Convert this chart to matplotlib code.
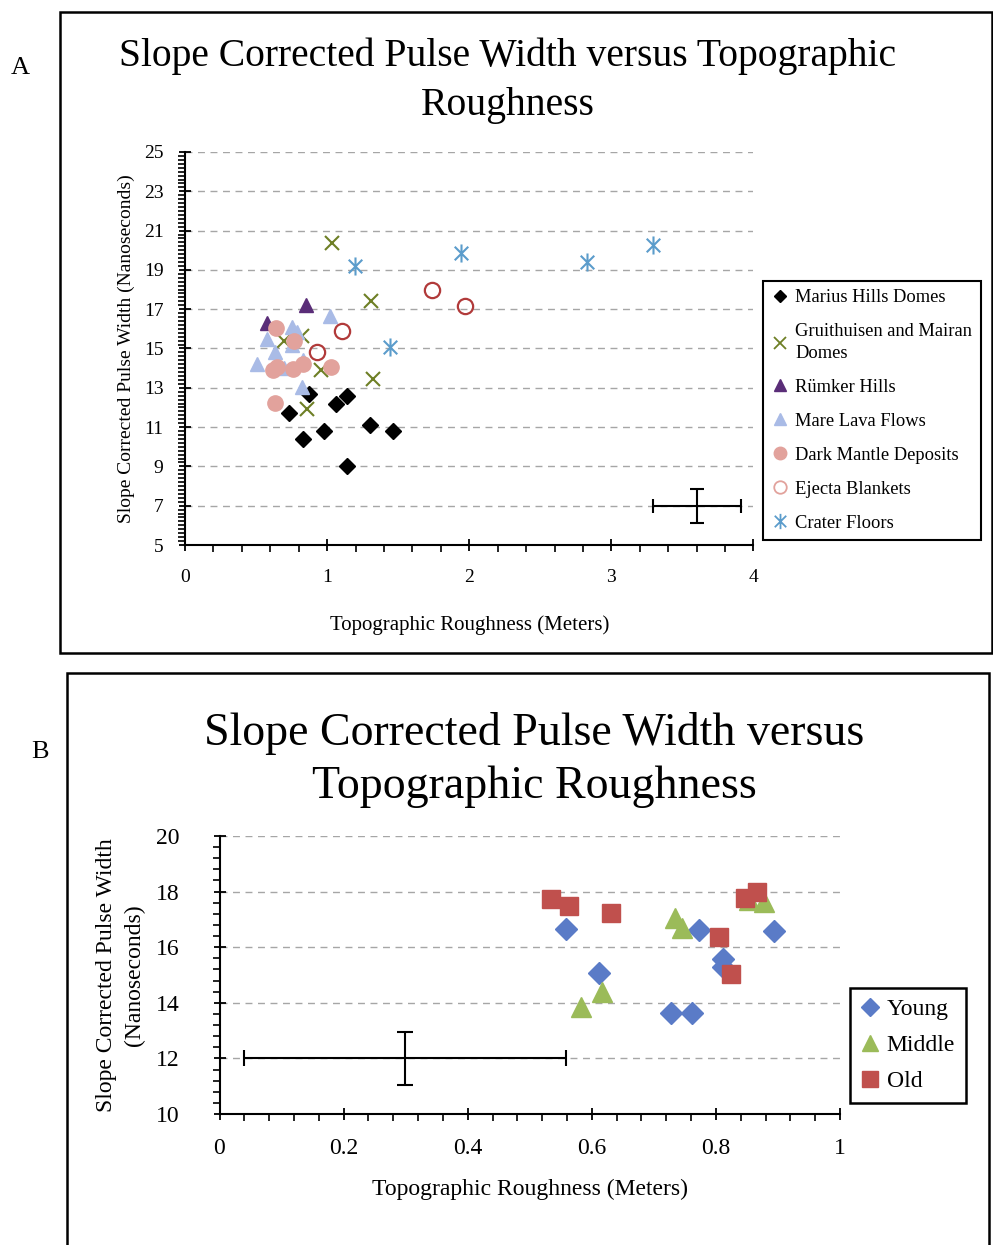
import numpy as np
import matplotlib
matplotlib.use("Agg")
from matplotlib import pyplot as plt
from matplotlib.path import Path
from matplotlib.patches import Rectangle
from matplotlib.lines import Line2D
from matplotlib.ticker import MultipleLocator

plt.rcParams['font.family'] = ['Liberation Serif', 'DejaVu Serif']

# ---- panel A data ----
marius_x = [0.87, 0.733, 1.06, 1.14, 0.832, 0.975, 1.30, 1.465, 1.14]
marius_y = [12.67, 11.70, 12.19, 12.58, 10.39, 10.80, 11.12, 10.79, 9.04]
gruit_x = [1.033, 1.312, 0.82, 0.70, 0.956, 1.326, 0.858]
gruit_y = [20.39, 17.43, 15.65, 15.40, 13.91, 13.43, 11.94]
rumker_x = [0.574, 0.85]
rumker_y = [16.31, 17.21]
mare_x = [1.02, 0.752, 0.79, 0.58, 0.635, 0.51, 0.752, 0.827, 0.82, 0.70]
mare_y = [16.67, 16.08, 15.85, 15.48, 14.84, 14.21, 15.20, 14.40, 13.03, 14.00]
dark_x = [0.638, 0.764, 0.616, 0.647, 0.757, 0.827, 1.026, 0.635]
dark_y = [16.03, 15.40, 13.91, 14.07, 13.96, 14.20, 14.07, 12.21]
ejecta_x = [1.108, 0.928, 1.741, 1.968]
ejecta_y = [15.89, 14.81, 17.98, 17.16]
crater_x = [1.197, 1.94, 1.443, 2.826, 3.292]
crater_y = [19.20, 19.84, 15.06, 19.39, 20.27]
err_a = (3.6, 7.0, 0.31, 0.87)   # x, y, xerr, yerr
yticks_a = [5, 7, 9, 11, 13, 15, 17, 19, 21, 23, 25]

# ---- panel B data ----
young_x = [0.558, 0.612, 0.772, 0.894, 0.812, 0.811, 0.727, 0.762]
young_y = [16.65, 15.06, 16.62, 16.60, 15.58, 15.28, 13.64, 13.64]
middle_x = [0.582, 0.616, 0.734, 0.745, 0.853, 0.878]
middle_y = [13.86, 14.38, 17.04, 16.68, 17.70, 17.64]
old_x = [0.534, 0.564, 0.631, 0.805, 0.825, 0.847, 0.867]
old_y = [17.72, 17.49, 17.24, 16.38, 15.02, 17.76, 18.00]
err_b = (0.299, 12.0, 0.26, 0.96)
xticklabels_b = ['0', '0.2', '0.4', '0.6', '0.8', '1']

W, H = 993, 1245
fig = plt.figure(figsize=(W / 100, H / 100), dpi=100)

def fx(px):
    return px / W

def fy(py):
    return 1 - py / H

# panel frames
fig.patches.append(Rectangle((fx(60), fy(653)), fx(932), 641 / H, transform=fig.transFigure,
                             fill=False, lw=1.8, ec='black'))
fig.patches.append(Rectangle((fx(67), fy(1260)), fx(922), 587 / H, transform=fig.transFigure,
                             fill=False, lw=1.8, ec='black'))
fig.text(fx(20), fy(68), 'A', fontsize=19, ha='center', va='center')
fig.text(fx(40), fy(752), 'B', fontsize=19, ha='center', va='center')

asterisk = Path([(0, -1), (0, 1), (-0.75, -0.75), (0.75, 0.75), (-0.75, 0.75), (0.75, -0.75)],
                [Path.MOVETO, Path.LINETO] * 3)

def style_axes(ax):
    for s in ['top', 'right']:
        ax.spines[s].set_visible(False)
    for s in ['left', 'bottom']:
        ax.spines[s].set_linewidth(1.5)
    ax.tick_params(which='major', direction='inout', length=9, width=1.3)
    ax.tick_params(which='minor', direction='out', length=5, width=1.2)
    ax.yaxis.grid(True, which='major', color='#a6a6a6', ls=(0, (5, 4)), lw=1)
    ax.set_axisbelow(True)

# ---------------- panel A ----------------
axA = fig.add_axes([fx(185), fy(545), 568.5 / W, 393 / H])
style_axes(axA)
axA.set_xlim(0, 4)
axA.set_ylim(5, 25)
axA.xaxis.set_major_locator(MultipleLocator(1))
axA.xaxis.set_minor_locator(MultipleLocator(0.2))
axA.set_yticks(yticks_a)
axA.yaxis.set_minor_locator(MultipleLocator(0.2))
axA.tick_params(axis='x', labelsize=14, pad=13)
axA.tick_params(axis='y', labelsize=14, pad=11)

c_gr = '#6e7f25'
c_ru = '#5a2d78'
c_ma = '#a9bbe6'
c_dk = '#e2a29c'
c_ej = '#b13a3a'
c_cr = '#5b9ccb'

axA.plot(marius_x, marius_y, 'D', color='black', ms=8, ls='none')
axA.plot(gruit_x, gruit_y, 'x', color=c_gr, ms=10, mew=1.5, ls='none')
axA.plot(rumker_x, rumker_y, '^', color=c_ru, ms=10, ls='none')
axA.plot(mare_x, mare_y, '^', color=c_ma, ms=10, ls='none')
axA.plot(dark_x, dark_y, 'o', color=c_dk, ms=11, ls='none')
axA.plot(ejecta_x, ejecta_y, 'o', mfc='none', mec=c_ej, ms=11, mew=1.6, ls='none')
axA.plot(crater_x, crater_y, marker=asterisk, mfc='none', mec=c_cr, ms=13, mew=1.5, ls='none')
axA.errorbar([err_a[0]], [err_a[1]], xerr=[err_a[2]], yerr=[err_a[3]], fmt='none',
             ecolor='black', elinewidth=1.5, capsize=5, capthick=1.5)

axA.set_xlabel('Topographic Roughness (Meters)', fontsize=15, labelpad=21)
axA.set_ylabel('Slope Corrected Pulse Width (Nanoseconds)', fontsize=14, labelpad=6)
fig.text(fx(508), fy(81), 'Slope Corrected Pulse Width versus Topographic\nRoughness',
         fontsize=28.5, ha='center', va='center', linespacing=1.42)

hA = [
    Line2D([], [], marker='D', color='black', ms=6, ls='none'),
    Line2D([], [], marker='x', color=c_gr, ms=9, mew=1.3, ls='none'),
    Line2D([], [], marker='^', color=c_ru, ms=8, ls='none'),
    Line2D([], [], marker='^', color=c_ma, ms=8, ls='none'),
    Line2D([], [], marker='o', color=c_dk, ms=9, ls='none'),
    Line2D([], [], marker='o', mfc='none', mec=c_dk, ms=9, mew=1.3, ls='none'),
    Line2D([], [], marker=asterisk, mfc='none', mec=c_cr, ms=11, mew=1.3, ls='none'),
]
lA = ['Marius Hills Domes', 'Gruithuisen and Mairan\nDomes', 'Rümker Hills', 'Mare Lava Flows',
      'Dark Mantle Deposits', 'Ejecta Blankets', 'Crater Floors']
legA = fig.legend(hA, lA, loc='upper left', bbox_to_anchor=(fx(763), fy(281)),
                  bbox_transform=fig.transFigure, fontsize=13.3, frameon=True, fancybox=False,
                  edgecolor='black', framealpha=1, handlelength=0.9, handletextpad=0.4,
                  labelspacing=0.92, borderpad=0.45, borderaxespad=0)
legA.get_frame().set_linewidth(1.5)
legA.get_texts()[1].set_linespacing(1.35)

# ---------------- panel B ----------------
axB = fig.add_axes([fx(219.5), fy(1114), 620.5 / W, 278 / H])
style_axes(axB)
axB.set_xlim(0, 1)
axB.set_ylim(10, 20)
axB.xaxis.set_minor_locator(MultipleLocator(0.04))
axB.yaxis.set_major_locator(MultipleLocator(2))
axB.yaxis.set_minor_locator(MultipleLocator(0.4))
axB.set_xticks(np.arange(0, 1.01, 0.2))
axB.set_xticklabels(xticklabels_b)
axB.tick_params(axis='x', labelsize=17, pad=13)
axB.tick_params(axis='y', labelsize=17, pad=24)

c_y = '#5a7bc7'
c_m = '#9bbb59'
c_o = '#c0504d'
axB.plot(young_x, young_y, 'D', color=c_y, ms=11, ls='none')
axB.plot(middle_x, middle_y, '^', color=c_m, ms=14, ls='none')
axB.plot(old_x, old_y, 's', color=c_o, ms=13, ls='none')
axB.errorbar([err_b[0]], [err_b[1]], xerr=[err_b[2]], yerr=[err_b[3]], fmt='none',
             ecolor='black', elinewidth=1.5, capsize=6, capthick=1.5)

axB.set_xlabel('Topographic Roughness (Meters)', fontsize=17, labelpad=14)
axB.set_ylabel('Slope Corrected Pulse Width\n(Nanoseconds)', fontsize=17, labelpad=8,
               linespacing=1.45)
fig.text(fx(534), fy(760), 'Slope Corrected Pulse Width versus\nTopographic Roughness',
         fontsize=33, ha='center', va='center', linespacing=1.33)

hB = [
    Line2D([], [], marker='D', color=c_y, ms=9, ls='none'),
    Line2D([], [], marker='^', color=c_m, ms=11, ls='none'),
    Line2D([], [], marker='s', color=c_o, ms=11, ls='none'),
]
legB = fig.legend(hB, ['Young', 'Middle', 'Old'], loc='upper left',
                  bbox_to_anchor=(fx(850), fy(988)), bbox_transform=fig.transFigure,
                  fontsize=17, frameon=True, fancybox=False, edgecolor='black', framealpha=1,
                  handlelength=0.8, handletextpad=0.3, labelspacing=0.62, borderpad=0.45,
                  borderaxespad=0)
legB.get_frame().set_linewidth(1.8)

fig.savefig('out.png', dpi=100)
